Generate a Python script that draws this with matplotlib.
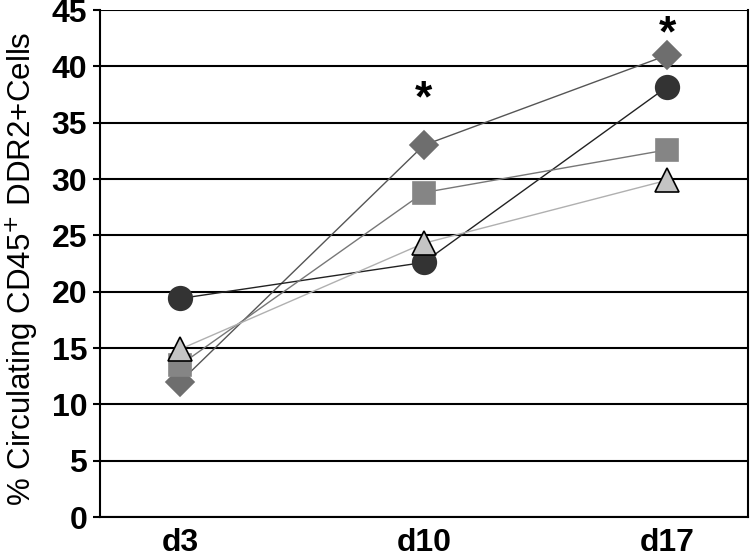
import matplotlib
matplotlib.use("Agg")
import matplotlib.pyplot as plt
import numpy as np

plt.rcParams["font.family"] = ["Liberation Sans", "DejaVu Sans"]

days = ["d3", "d10", "d17"]
diamond = [12.0, 33.0, 41.0]
circle = [19.4, 22.6, 38.2]
square = [13.5, 28.8, 32.6]
triangle = [14.9, 24.3, 29.9]
star_pos = [1, 2]
star_y = [37.0, 42.8]

series = [
    (diamond, "D", "#6e6e6e", "#6e6e6e", "#555555", 14),
    (circle, "o", "#333333", "#333333", "#222222", 17),
    (square, "s", "#858585", "#858585", "#777777", 16),
    (triangle, "^", "#c4c4c4", "#000000", "#b0b0b0", 17),
]

fig = plt.figure(figsize=(7.5, 5.59), dpi=100)
ax = fig.add_axes([0.133, 0.075, 0.864, 0.907])

x = np.arange(len(days))
for vals, m, fc, ec, lc, ms in series:
    ax.plot(x, vals, color=lc, lw=1.0, zorder=3)
    ax.plot(x, vals, ls="none", marker=m, ms=ms, mfc=fc, mec=ec,
            mew=1.2, zorder=4)

for px, py in zip(star_pos, star_y):
    ax.text(px, py, "*", ha="center", va="center", fontsize=32,
            fontweight="bold")

ax.set_ylim(0, 45)
ax.set_xlim(-0.33, 2.33)
ax.set_yticks(np.arange(0, 46, 5))
ax.set_xticks(x)
ax.set_xticklabels(days)
for t in ax.get_xticklabels() + ax.get_yticklabels():
    t.set_fontweight("bold")
    t.set_fontsize(23)
ax.tick_params(axis="x", length=0, pad=8)
ax.tick_params(axis="y", length=5, width=1.5, pad=4)
ax.yaxis.grid(True, color="black", lw=1.5)
ax.set_axisbelow(True)
for s in ["left", "bottom", "right"]:
    ax.spines[s].set_linewidth(1.5)
ax.spines["top"].set_visible(False)
ax.set_ylabel("% Circulating CD45$^{+}$ DDR2+Cells", fontsize=22.5)
ax.yaxis.set_label_coords(-0.092, 0.49)

fig.savefig("out.png", dpi=100)
